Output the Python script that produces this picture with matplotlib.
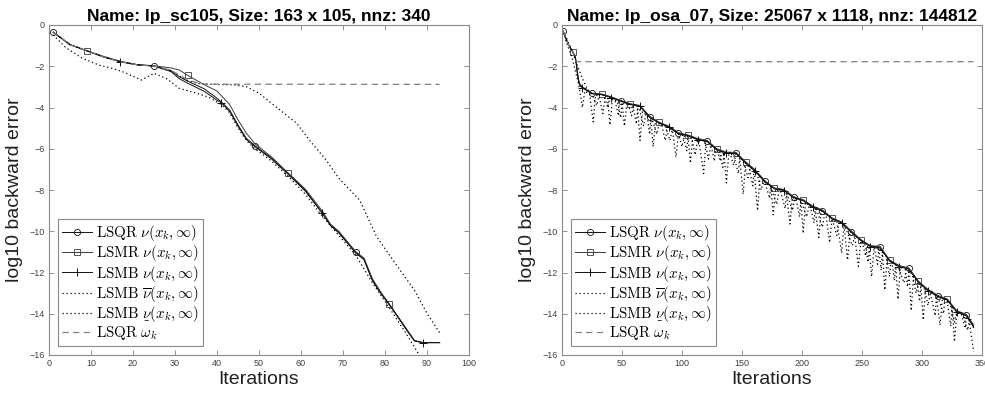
import io
import numpy as np
import matplotlib
matplotlib.use("Agg")
import matplotlib.pyplot as plt

plt.rcParams['font.family'] = ['Liberation Sans', 'DejaVu Sans']
plt.rcParams['mathtext.fontset'] = 'cm'
plt.rcParams['mathtext.rm'] = 'serif'

# ---------------- data: left panel (lp_sc105) ----------------
title_left = "Name: lp_sc105, Size: 163 x 105, nnz: 340"
l_it_main = [1, 5, 9, 13, 17, 21, 25, 29, 31, 33, 37, 40, 41, 43, 45, 47, 49, 53, 57, 61, 65, 67, 69, 73, 75, 77, 79, 81, 85, 87, 89, 93]
l_lsqr = [-0.35, -0.95, -1.25, -1.55, -1.78, -1.93, -1.99, -2.2, -2.5, -2.72, -3.1, -3.55, -3.72, -4.12, -4.85, -5.5, -5.85, -6.45, -7.2, -8.0, -9.1, -9.7, -10.05, -11.02, -11.35, -12.35, -13.0, -13.52, -14.72, -15.3, -15.4, -15.4]
l_lsmr = [-0.35, -0.95, -1.25, -1.52, -1.76, -1.92, -1.98, -2.08, -2.18, -2.44, -2.9, -3.2, -3.42, -3.85, -4.6, -5.25, -5.75, -6.4, -7.19, -7.95, -9.0, -9.65, -10.0, -10.98, -11.3, -12.3, -12.95, -13.54, -14.7, -15.3, -15.4, -15.4]
l_lsmb = [-0.35, -0.95, -1.25, -1.55, -1.78, -1.93, -1.99, -2.25, -2.6, -2.82, -3.22, -3.65, -3.77, -4.18, -4.9, -5.55, -5.9, -6.5, -7.25, -8.05, -9.1, -9.72, -10.08, -11.05, -11.38, -12.4, -13.02, -13.55, -14.75, -15.32, -15.4, -15.4]
l_it_upper = [1, 5, 9, 13, 17, 21, 25, 29, 33, 36, 40, 44, 47, 50, 55, 59, 62, 66, 69, 74, 78, 83, 87, 90, 93]
l_upper = [-0.35, -0.95, -1.25, -1.55, -1.78, -1.93, -1.99, -2.25, -2.7, -2.86, -2.88, -2.9, -2.99, -3.31, -4.12, -4.77, -5.58, -6.55, -7.43, -8.5, -10.26, -11.72, -12.85, -13.98, -14.92]
l_it_lower = [1, 4, 8, 12, 15, 18, 22, 25, 28, 31, 35, 38, 41, 43, 45, 47, 49, 53, 57, 61, 65, 69, 73, 77, 81, 85, 88]
l_lower = [-0.48, -1.1, -1.62, -1.95, -2.1, -2.3, -2.67, -2.34, -2.6, -3.07, -3.3, -3.5, -3.85, -4.25, -5.0, -5.6, -6.0, -6.6, -7.35, -8.2, -9.25, -10.2, -11.15, -12.5, -13.7, -14.95, -15.95]
l_it_omega = [1, 5, 9, 13, 17, 21, 25, 29, 33, 36, 40, 93]
l_omega = [-0.35, -0.95, -1.25, -1.55, -1.78, -1.93, -1.99, -2.2, -2.65, -2.85, -2.87, -2.88]

# ---------------- data: right panel (lp_osa_07) ----------------
title_right = "Name: lp_osa_07, Size: 25067 x 1118, nnz: 144812"
r_it_main = [1, 5, 9, 11, 12, 13, 14, 15, 17, 25, 33, 41, 49, 57, 65, 73, 81, 89, 97, 105, 113, 121, 129, 137, 145, 153,
             161, 169, 177, 185, 193, 201, 209, 217, 225, 233, 241, 249, 257, 265, 273, 281, 289, 297, 305, 313, 321,
             329, 337, 343]
r_lsqr = [-0.3, -0.9, -1.3, -1.55, -1.9, -2.4, -2.75, -2.9, -3.02, -3.32, -3.36, -3.5, -3.68, -3.83, -3.93, -4.45, -4.73,
          -4.93, -5.25, -5.35, -5.54, -5.62, -6.03, -6.19, -6.2, -6.66, -7.06, -7.58, -7.92, -8.0, -8.35, -8.49, -8.81,
          -9.0, -9.37, -9.57, -10.02, -10.42, -10.72, -10.76, -11.42, -11.7, -11.8, -12.45, -12.85, -13.14, -13.3,
          -13.9, -14.06, -14.6]
r_lsmr = [-0.3, -0.9, -1.3, -1.5, -1.85, -2.35, -2.7, -2.88, -3.0, -3.3, -3.35, -3.48, -3.66, -3.82, -3.9, -4.42, -4.72,
          -4.9, -5.22, -5.33, -5.5, -5.6, -6.0, -6.16, -6.18, -6.63, -7.02, -7.55, -7.9, -7.97, -8.32, -8.47, -8.78,
          -8.97, -9.35, -9.55, -9.98, -10.4, -10.7, -10.73, -11.4, -11.66, -11.78, -12.42, -12.82, -13.1, -13.28,
          -13.85, -14.03, -14.55]
r_lsmb = [-0.3, -0.92, -1.32, -1.6, -1.95, -2.45, -2.8, -2.95, -3.05, -3.34, -3.38, -3.52, -3.7, -3.86, -3.95, -4.48,
          -4.76, -4.95, -5.28, -5.38, -5.56, -5.65, -6.06, -6.22, -6.23, -6.7, -7.1, -7.6, -7.95, -8.03, -8.38, -8.52,
          -8.84, -9.03, -9.4, -9.6, -10.05, -10.45, -10.75, -10.8, -11.45, -11.72, -11.83, -12.48, -12.88, -13.17,
          -13.33, -13.93, -14.1, -14.65]
r_it_upper = [1, 9, 13, 17, 21, 25, 29, 31, 35, 38, 40, 44, 47, 48, 55, 58, 60, 64, 68, 70, 75, 79, 81, 86, 90, 92, 97,
              100, 102, 108, 111, 113, 119, 122, 124, 129, 132, 133, 140, 143, 145, 151, 155, 157, 162, 166, 168, 174,
              179, 181, 187, 192, 194, 199, 204, 206, 212, 217, 219, 225, 229, 231, 236, 242, 244, 250, 253, 254, 260,
              263, 264, 270, 273, 274, 280, 285, 287, 292, 295, 297, 302, 305, 307, 313, 318, 319, 323, 327, 329, 334,
              338, 340, 343]
r_upper = [-0.3, -1.3, -2.0, -2.6, -3.1, -3.35, -3.9, -3.4, -3.4, -4.0, -3.5, -3.6, -4.4, -3.65, -3.8, -4.4, -3.85,
           -3.95, -4.9, -4.3, -4.55, -5.3, -4.75, -4.9, -5.6, -5.0, -5.25, -5.9, -5.35, -5.45, -6.3, -5.55, -5.62, -6.5,
           -5.8, -6.05, -6.6, -6.15, -6.2, -6.8, -6.25, -6.6, -7.4, -6.9, -7.1, -8.0, -7.55, -7.85, -8.7, -7.95, -8.1,
           -9.0, -8.4, -8.5, -9.3, -8.7, -8.9, -9.8, -9.1, -9.4, -10.2, -9.5, -9.8, -10.7, -10.2, -10.5, -11.2, -10.75,
           -10.75, -11.6, -10.8, -11.2, -12.2, -11.45, -11.7, -12.5, -11.8, -12.1, -13.0, -12.5, -12.8, -13.6, -12.95,
           -13.15, -14.0, -13.25, -13.4, -14.4, -13.9, -14.05, -14.8, -14.2, -14.7]
r_it_lower = [1, 4, 8, 11, 14, 17, 19, 23, 26, 28, 31, 34, 36, 38, 40, 42, 46, 49, 50, 52, 54, 59, 62, 63, 65, 67, 71,
              73, 74, 76, 78, 83, 86, 88, 92, 95, 97, 101, 104, 105, 107, 109, 114, 118, 120, 124, 127, 128, 131, 134,
              135, 137, 139, 143, 147, 148, 151, 153, 156, 159, 160, 163, 165, 169, 173, 174, 176, 178, 182, 186, 187,
              190, 192, 195, 198, 199, 201, 203, 207, 210, 211, 214, 216, 220, 223, 225, 229, 233, 235, 238, 240, 244,
              247, 249, 253, 255, 256, 258, 260, 264, 266, 267, 269, 271, 275, 277, 278, 280, 282, 286, 288, 289, 291,
              293, 296, 298, 299, 301, 303, 307, 311, 312, 315, 317, 321, 324, 325, 327, 329, 333, 336, 337, 339, 343]
r_lower = [-0.35, -0.9, -1.5, -2.2, -2.9, -4.0, -3.2, -3.35, -4.7, -3.4, -3.45, -4.3, -3.5, -3.55, -4.85, -3.6, -3.7,
           -4.5, -3.75, -4.9, -3.8, -3.9, -4.8, -4.0, -5.6, -4.2, -4.4, -5.3, -4.55, -5.9, -4.65, -4.8, -5.6, -4.95,
           -5.1, -6.4, -5.3, -5.35, -6.1, -5.4, -6.7, -5.45, -5.6, -7.2, -5.65, -5.8, -6.6, -6.0, -6.15, -6.9, -6.2,
           -7.65, -6.25, -6.3, -7.2, -6.45, -8.2, -6.7, -6.9, -7.8, -7.0, -9.0, -7.3, -7.6, -8.4, -7.8, -9.2, -7.95,
           -8.05, -8.9, -8.15, -9.65, -8.35, -8.45, -9.3, -8.5, -10.1, -8.6, -8.8, -9.6, -8.9, -10.3, -9.0, -9.2,
           -10.55, -9.4, -9.5, -11.05, -9.7, -11.4, -10.0, -10.3, -11.7, -10.45, -10.7, -11.5, -10.8, -12.2, -10.8,
           -10.85, -11.9, -11.0, -12.85, -11.3, -11.5, -12.4, -11.6, -13.3, -11.75, -11.85, -12.7, -11.9, -13.85, -12.1,
           -12.5, -13.4, -12.6, -14.3, -12.8, -13.0, -14.1, -13.15, -14.55, -13.25, -13.4, -14.6, -13.6, -15.35, -13.95,
           -14.05, -14.7, -14.1, -14.2, -15.85]
r_it_omega = [1, 5, 9, 11, 12, 343]
r_omega = [-0.3, -0.9, -1.3, -1.7, -1.78, -1.78]

yticks = [0, -2, -4, -6, -8, -10, -12, -14, -16]
xticks_left = [0, 10, 20, 30, 40, 50, 60, 70, 80, 90, 100]
xticks_right = [0, 50, 100, 150, 200, 250, 300, 350]


def mathtext_ok(s):
    try:
        from matplotlib.mathtext import math_to_image
        math_to_image(s, io.BytesIO(), dpi=72, format='png')
        return True
    except Exception:
        return False


lab_q = r'$\mathrm{LSQR}\ \nu(x_k,\infty)$'
lab_r = r'$\mathrm{LSMR}\ \nu(x_k,\infty)$'
lab_b = r'$\mathrm{LSMB}\ \nu(x_k,\infty)$'
lab_up = r'$\mathrm{LSMB}\ \overline{\nu}(x_k,\infty)$'
cand = [r'$\mathrm{LSMB}\ \underline{\nu}(x_k,\infty)$',
        r'$\mathrm{LSMB}\ \underset{\_}{\nu}(x_k,\infty)$']
lab_lo = 'LSMB \u03bd\u0332(x\u2096,\u221e)'
for c in cand:
    if mathtext_ok(c):
        lab_lo = c
        break
lab_om = r'$\mathrm{LSQR}\ \omega_k$'

fig = plt.figure(figsize=(9.85, 3.98), dpi=100)
W, H = 985, 398
ax_l = fig.add_axes([49 / W, (H - 355) / H, 420 / W, 330 / H])
ax_r = fig.add_axes([562 / W, (H - 355) / H, 420 / W, 330 / H])

LW = 0.7
MS = 4.4
dot = (0, (1, 2.2))
dash = (0, (5, 3.5))


def marks(its, start):
    its = np.asarray(its)
    return list(np.where(np.isin(its, np.arange(start, 400, 24)))[0])


def draw(ax, it_main, q, r, b, it_up, up, it_lo, lo, it_om, om, xlim, xticks, title):
    ax.plot(it_main, q, color='#111111', lw=LW, marker='o', ms=MS, mfc='none', mew=0.6,
            markevery=marks(it_main, 1), label=lab_q)
    ax.plot(it_main, r, color='#3a3a3a', lw=LW, marker='s', ms=MS * 0.85, mfc='none', mew=0.6,
            markevery=marks(it_main, 9), label=lab_r)
    ax.plot(it_main, b, color='#111111', lw=LW, marker='+', ms=MS * 1.2, mew=0.7,
            markevery=marks(it_main, 17), label=lab_b)
    ax.plot(it_up, up, color='k', lw=0.9, ls=dot, label=lab_up)
    ax.plot(it_lo, lo, color='k', lw=0.9, ls=dot, label=lab_lo)
    ax.plot(it_om, om, color='#808080', lw=0.9, ls=dash, label=lab_om)
    ax.set_xlim(*xlim)
    ax.set_ylim(-16, 0)
    ax.set_xticks(xticks)
    ax.set_yticks(yticks)
    ax.tick_params(direction='in', length=3.5, width=0.6, top=True, right=True,
                   labelsize=6.5, labelcolor='#404040', color='#808080', pad=3)
    for s in ax.spines.values():
        s.set_color('#8a8a8a')
        s.set_linewidth(0.8)
    ax.set_xlabel('Iterations', fontsize=14, labelpad=2, color='#202020')
    ax.set_ylabel('log10 backward error', fontsize=14, labelpad=5, color='#202020')
    ax.set_title(title, fontsize=12.5, fontweight='bold', pad=3)
    leg = ax.legend(loc='lower left', bbox_to_anchor=(0.022, 0.027), borderaxespad=0,
                    fontsize=10.8, frameon=True, fancybox=False, framealpha=1,
                    edgecolor='#8a8a8a', labelspacing=0.02, handlelength=2.0,
                    handletextpad=0.25, borderpad=0.25)
    leg.get_frame().set_linewidth(0.8)


draw(ax_l, l_it_main, l_lsqr, l_lsmr, l_lsmb, l_it_upper, l_upper, l_it_lower, l_lower,
     l_it_omega, l_omega, (0, 100), xticks_left, title_left)
draw(ax_r, r_it_main, r_lsqr, r_lsmr, r_lsmb, r_it_upper, r_upper, r_it_lower, r_lower,
     r_it_omega, r_omega, (0, 350), xticks_right, title_right)

fig.savefig('out.png', dpi=100)
